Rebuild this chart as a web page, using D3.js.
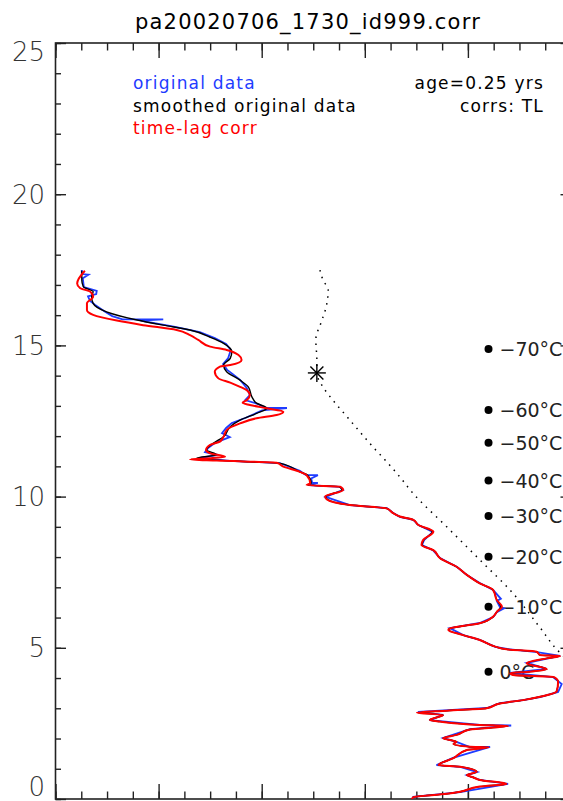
<!DOCTYPE html>
<html>
<head>
<meta charset="utf-8">
<script src="https://cdn.jsdelivr.net/npm/d3@7"></script>
<style>
  body { margin: 0; background: #fff; }
  svg { display: block; }
</style>
</head>
<body>
<div id="chart"></div>
<script>
// values: [relative humidity %, altitude km], top of profile first
var redProfile = [
  [5.7,17.47],[4.2,17.05],[4.8,16.89],[6.7,16.78],[7.3,16.61],[6.1,16.39],[6.1,16.17],[7.3,16.01],
  [11.9,15.82],[17.0,15.67],[23.5,15.51],[26.1,15.34],[27.7,15.18],[30.0,14.96],[33.2,14.85],[35.5,14.68],
  [36.1,14.52],[33.9,14.35],[31.9,14.30],[30.9,14.13],[31.6,13.91],[33.9,13.77],[35.8,13.63],[37.1,13.52],
  [37.7,13.36],[37.1,13.19],[36.3,13.10],[37.7,13.03],[41.0,12.92],[44.2,12.81],[42.9,12.70],[39.0,12.59],
  [35.8,12.42],[33.2,12.20],[32.6,11.98],[31.9,11.82],[30.0,11.71],[29.2,11.54],[30.0,11.43],[32.9,11.32],
  [30.0,11.27],[26.1,11.23],[31.3,11.19],[42.9,11.12],[44.2,10.99],[47.4,10.82],
  [48.7,10.71],[49.4,10.44],[48.7,10.38],[55.2,10.33],[55.8,10.22],[52.3,10.00],[52.6,9.91],[57.1,9.72],
  [64.2,9.61],[65.5,9.45],[66.8,9.34],[69.4,9.23],[70.4,9.06],[73.3,8.84],[71.3,8.56],[71.0,8.40],
  [73.3,8.23],[74.6,7.96],[77.8,7.68],[79.8,7.41],[82.3,7.13],[84.9,6.91],[85.6,6.58],[86.6,6.36],
  [85.6,6.19],[84.9,6.03],[82.3,5.81],[76.5,5.64],[76.2,5.59],[79.1,5.42],[82.3,5.26],[85.3,5.04],
  [87.5,4.95],[93.3,4.87],[94.0,4.76],[97.9,4.73],[95.3,4.65],[91.4,4.49],[95.3,4.29],[92.0,4.21],
  [88.2,4.16],[88.8,4.10],[96.6,4.04],[97.5,3.88],[97.2,3.55],[94.0,3.38],[90.7,3.27],[86.2,3.16],
  [83.6,3.00],[75.9,2.92],[70.1,2.85],[75.2,2.78],[72.6,2.61],[74.6,2.56],[82.3,2.45],[87.8,2.41],
  [80.4,2.30],[77.8,2.12],[75.2,2.01],[77.8,1.89],[77.2,1.82],[80.4,1.73],[84.0,1.71],[79.8,1.62],
  [77.2,1.35],[74.3,1.12],[78.5,1.07],[81.7,0.90],[79.8,0.79],[81.0,0.72],[82.3,0.63],[87.5,0.50],
  [82.3,0.41],[78.5,0.24],[75.9,0.17],[69.4,0.06],[69.1,-0.03]
];

var blackProfile = [
  [5.1,17.47],[5.1,17.16],[5.4,16.94],[7.3,16.78],[7.0,16.61],[7.3,16.39],[9.9,16.11],[15.8,15.84],
  [20.9,15.67],[26.1,15.51],[30.0,15.27],[32.6,15.07],[34.2,14.79],[33.9,14.57],[32.6,14.35],[33.2,14.13],
  [35.8,13.85],[37.4,13.63],[38.1,13.30],[39.0,13.09],[41.0,12.92],[39.0,12.75],[35.8,12.53],[33.9,12.31],
  [32.6,11.98],[30.6,11.76],[29.3,11.54],[31.3,11.38],[27.4,11.27],[37.7,11.15],[43.6,11.10],[47.4,10.82],
  [48.9,10.71],[49.6,10.44],[48.9,10.38],[55.0,10.33],[55.6,10.22],[52.4,10.00],[52.7,9.91],[57.1,9.72],
  [64.2,9.61],[65.5,9.45],[66.8,9.34],[69.4,9.23],[70.4,9.06],[73.1,8.84],[71.4,8.56],[71.1,8.40],
  [73.3,8.23],[74.6,7.96],[77.8,7.68],[79.8,7.41],[82.3,7.13],[84.9,6.91],[85.6,6.58],[86.4,6.36],
  [85.6,6.19],[84.9,6.03],[82.3,5.81],[76.6,5.64],[76.3,5.59],[79.1,5.42],[82.3,5.26],[85.3,5.04],
  [87.5,4.95],[93.3,4.87],[94.0,4.76],[97.7,4.73],[95.3,4.65],[91.5,4.49],[95.3,4.29],[92.0,4.21],
  [88.3,4.16],[88.8,4.10],[96.5,4.04],[97.5,3.88],[97.2,3.55],[94.0,3.38],[90.7,3.27],[86.2,3.16],
  [83.6,3.00],[75.9,2.92],[70.3,2.85],[75.2,2.78],[72.6,2.61],[74.6,2.56],[82.3,2.45],[87.7,2.41],
  [80.4,2.30],[77.8,2.12],[75.2,2.01],[77.8,1.89],[77.2,1.82],[80.4,1.73],[84.0,1.71],[79.8,1.62],
  [77.2,1.35],[74.3,1.12],[78.5,1.07],[81.7,0.90],[79.8,0.79],[81.0,0.72],[82.3,0.63],[87.5,0.50],
  [82.3,0.41],[78.5,0.24],[75.9,0.17],[69.4,0.06],[69.1,-0.03]
];

// raw sounding: follows the smoothed curve with short horizontal jumps
var blueProfile = [
  [5.1,17.49],[5.1,17.36],[6.4,17.34],[5.3,17.22],[5.5,16.93],[8.0,16.80],[7.9,16.70],[6.3,16.62],
  [6.7,16.47],[7.7,16.34],[9.4,16.14],[11.0,15.97],[13.0,15.86],[20.9,15.86],[16.5,15.82],[23.2,15.61],
  [28.0,15.44],[30.9,15.24],[33.1,15.05],[34.0,14.85],[33.5,14.58],[32.5,14.38],[33.3,14.19],[34.4,14.05],
  [35.8,13.86],[37.1,13.59],[37.7,13.36],[36.8,13.19],[39.3,13.06],[40.8,12.93],[44.9,12.93],[40.1,12.85],
  [36.8,12.60],[34.2,12.43],[33.1,12.27],[32.3,12.10],[33.8,11.97],[32.3,11.87],[30.9,11.77],[29.6,11.61],
  [29.0,11.47],[31.5,11.38],[28.0,11.28],[33.8,11.18],[43.5,11.11],[47.4,10.85],[48.6,10.71],[50.9,10.71],
  [49.6,10.60],[49.8,10.45],[50.9,10.45],[49.0,10.38],[55.2,10.32],[55.8,10.22],[52.4,9.99],[57.1,9.72],
  [64.3,9.62],[65.5,9.46],[66.8,9.33],[69.4,9.23],[70.4,9.06],[73.2,8.83],[71.5,8.56],[71.1,8.40],
  [73.2,8.23],[74.6,7.97],[77.9,7.67],[79.8,7.41],[82.3,7.14],[84.9,6.91],[86.4,6.62],[85.6,6.55],
  [86.2,6.35],[87.0,6.30],[85.6,6.18],[84.9,6.02],[82.3,5.82],[76.5,5.65],[79.1,5.42],[82.3,5.26],
  [85.3,5.03],[87.6,4.96],[93.4,4.86],[97.9,4.73],[91.5,4.50],[95.3,4.30],[88.2,4.17],[96.5,4.03],
  [98.2,3.80],[97.5,3.54],[94.0,3.37],[90.7,3.27],[86.2,3.17],[83.7,3.01],[70.3,2.88],[75.2,2.78],
  [72.6,2.61],[82.3,2.45],[88.4,2.43],[80.4,2.31],[75.2,2.02],[77.9,1.88],[80.4,1.72],[84.3,1.72],
  [77.1,1.36],[73.9,1.12],[78.5,1.06],[81.8,0.89],[79.8,0.79],[82.3,0.63],[87.8,0.50],[78.5,0.23],
  [69.4,0.07],[69.2,-0.03]
];

// dotted line (ice saturation)
var iceSatLine = [
  [51.3,17.49],[51.9,17.16],[52.9,16.83],[52.5,16.27],[51.7,15.84],[50.5,15.18],[50.7,14.52],[50.7,14.09],
  [51.9,13.62],[53.8,13.19],[56.6,12.63],[59.1,12.13],[61.6,11.64],[64.3,11.14],[66.8,10.65],[69.3,10.12],
  [75.9,9.00],[82.3,7.91],[88.7,6.81],[93.9,5.69],[97.9,4.83],[100.5,4.45]
];

// tropopause marker
var tropoRh = 50.7, tropoAlt = 14.09;

// temperature levels
var tempLabels = ["\u221270\u00B0C","\u221260\u00B0C","\u221250\u00B0C","\u221240\u00B0C","\u221230\u00B0C","\u221220\u00B0C","\u221210\u00B0C","0\u00B0C"];
var tempAlts = [14.88, 12.86, 11.78, 10.53, 9.36, 8.01, 6.36, 4.21];
var tempDotRh = 84.0;

var yMajorTicks = [0, 5, 10, 15, 20, 25];
var yTickLabels = ["0", "5", "10", "15", "20", "25"];

var titleText = "pa20020706_1730_id999.corr";
var legendLabels = ["original data", "smoothed original data", "time-lag corr"];
var infoLabels = ["age=0.25 yrs", "corrs: TL"];

var blueColor = "#1f3cff";
var redColor = "#ff0000";

var width = 563, height = 801;
var plot = { left: 55.5, top: 43, right: 571, bottom: 799 };

var svg = d3.select("#chart").append("svg")
    .attr("width", width)
    .attr("height", height);

var x = d3.scaleLinear().domain([0, 100]).range([plot.left, plot.right]);
var y = d3.scaleLinear().domain([0, 25]).range([plot.bottom, plot.top]);

svg.append("defs").append("clipPath").attr("id", "plotclip")
  .append("rect")
    .attr("x", plot.left).attr("y", plot.top)
    .attr("width", plot.right - plot.left).attr("height", plot.bottom - plot.top);

// title
svg.append("text")
    .attr("x", 308).attr("y", 29)
    .attr("text-anchor", "middle")
    .style("font-family", "DejaVu Sans")
    .style("font-size", "21px")
    .style("letter-spacing", "1.2px")
    .style("fill", "#000")
    .text(titleText);

// axes: ticks pointing inward on all four sides
var xMinor = d3.range(0, 101, 5);
var xMajor = d3.range(0, 101, 20);
var yMinor = d3.range(0, 26, 1);

function styleAxis(g) {
  g.select(".domain").remove();
  g.selectAll(".tick line").attr("stroke", "#222").attr("stroke-width", 1.4);
  g.selectAll(".tick text").remove();
}

svg.append("g").attr("transform", "translate(0," + plot.bottom + ")")
  .call(d3.axisTop(x).tickValues(xMinor).tickSize(7.5)).call(styleAxis);
svg.append("g").attr("transform", "translate(0," + plot.bottom + ")")
  .call(d3.axisTop(x).tickValues(xMajor).tickSize(15)).call(styleAxis);
svg.append("g").attr("transform", "translate(0," + plot.top + ")")
  .call(d3.axisBottom(x).tickValues(xMinor).tickSize(7.5)).call(styleAxis);
svg.append("g").attr("transform", "translate(0," + plot.top + ")")
  .call(d3.axisBottom(x).tickValues(xMajor).tickSize(15)).call(styleAxis);

svg.append("g").attr("transform", "translate(" + plot.left + ",0)")
  .call(d3.axisRight(y).tickValues(yMinor).tickSize(5.5)).call(styleAxis);
svg.append("g").attr("transform", "translate(" + plot.left + ",0)")
  .call(d3.axisRight(y).tickValues(yMajorTicks).tickSize(10.5)).call(styleAxis);
svg.append("g").attr("transform", "translate(" + plot.right + ",0)")
  .call(d3.axisLeft(y).tickValues(yMinor).tickSize(5.5)).call(styleAxis);
svg.append("g").attr("transform", "translate(" + plot.right + ",0)")
  .call(d3.axisLeft(y).tickValues(yMajorTicks).tickSize(10.5)).call(styleAxis);

// frame
svg.append("rect")
    .attr("x", plot.left).attr("y", plot.top)
    .attr("width", plot.right - plot.left).attr("height", plot.bottom - plot.top)
    .attr("fill", "none").attr("stroke", "#222").attr("stroke-width", 1.6);

// y tick labels (the end labels sit inside the frame height)
svg.selectAll(".ylab")
  .data(yMajorTicks)
  .enter().append("text")
    .attr("class", "ylab")
    .attr("x", 45)
    .attr("y", function(d) {
      var shift = d === 25 ? 9 : (d === 0 ? -12 : 0);
      return y(d) + shift;
    })
    .attr("dy", "0.36em")
    .attr("text-anchor", "end")
    .style("font-family", "DejaVu Sans")
    .style("font-weight", 200)
    .style("font-size", "26px")
    .style("fill", "#333")
    .text(function(d, i) { return yTickLabels[i]; });

// legend
var legendColors = [blueColor, "#000", redColor];
svg.selectAll(".leg")
  .data(legendLabels)
  .enter().append("text")
    .attr("class", "leg")
    .attr("x", 133).attr("y", function(d, i) { return 89 + i * 22.5; })
    .style("font-family", "DejaVu Sans")
    .style("font-size", "17px")
    .style("letter-spacing", "1.2px")
    .style("fill", function(d, i) { return legendColors[i]; })
    .text(function(d) { return d; });

svg.selectAll(".info")
  .data(infoLabels)
  .enter().append("text")
    .attr("class", "info")
    .attr("x", 544).attr("y", function(d, i) { return 89 + i * 22.5; })
    .attr("text-anchor", "end")
    .style("font-family", "DejaVu Sans")
    .style("font-size", "17px")
    .style("letter-spacing", "1.2px")
    .style("fill", "#000")
    .text(function(d) { return d; });

var inner = svg.append("g").attr("clip-path", "url(#plotclip)");

// dotted ice saturation line
inner.append("path")
    .datum(iceSatLine)
    .attr("fill", "none")
    .attr("stroke", "#000")
    .attr("stroke-width", 1.5)
    .attr("stroke-dasharray", "1.5,5.5")
    .attr("d", d3.line().x(function(d) { return x(d[0]); }).y(function(d) { return y(d[1]); })
      .curve(d3.curveMonotoneY));

// temperature levels
inner.selectAll(".tdot")
  .data(tempAlts)
  .enter().append("circle")
    .attr("cx", x(tempDotRh))
    .attr("cy", function(d) { return y(d); })
    .attr("r", 4)
    .attr("fill", "#000");

inner.selectAll(".tlab")
  .data(tempAlts)
  .enter().append("text")
    .attr("x", x(tempDotRh) + 11)
    .attr("y", function(d) { return y(d); })
    .attr("dy", "0.37em")
    .style("font-family", "DejaVu Sans")
    .style("font-size", "19px")
    .style("fill", "#222")
    .text(function(d, i) { return tempLabels[i]; });

// profiles
var profileLine = d3.line()
    .x(function(d) { return x(d[0]); })
    .y(function(d) { return y(d[1]); });
var smoothLine = d3.line()
    .x(function(d) { return x(d[0]); })
    .y(function(d) { return y(d[1]); })
    .curve(d3.curveMonotoneY);

inner.append("path")
    .datum(blueProfile)
    .attr("fill", "none")
    .attr("stroke", blueColor)
    .attr("stroke-width", 1.8)
    .attr("d", profileLine);

inner.append("path")
    .datum(blackProfile)
    .attr("fill", "none")
    .attr("stroke", "#000")
    .attr("stroke-width", 1.4)
    .attr("d", smoothLine);

inner.append("path")
    .datum(redProfile)
    .attr("fill", "none")
    .attr("stroke", redColor)
    .attr("stroke-width", 2)
    .attr("d", smoothLine);

// tropopause asterisk
var star = svg.append("g")
    .attr("transform", "translate(" + x(tropoRh) + "," + y(tropoAlt) + ")")
    .attr("stroke", "#000").attr("stroke-width", 1.4);
[[-9, 0, 9, 0], [0, -9, 0, 9], [-6.5, -6.5, 6.5, 6.5], [-6.5, 6.5, 6.5, -6.5]].forEach(function(s) {
  star.append("line").attr("x1", s[0]).attr("y1", s[1]).attr("x2", s[2]).attr("y2", s[3]);
});
</script>
</body>
</html>
